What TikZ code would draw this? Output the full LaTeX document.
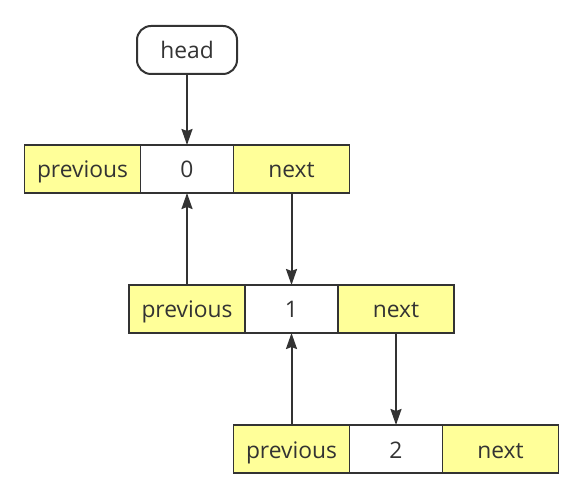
\documentclass[tikz,border=0pt]{standalone}
\usepackage{fontspec}
\setmainfont{Open Sans}
\usetikzlibrary{arrows.meta, positioning}

\definecolor{linkyellow}{HTML}{FFFF99}
\definecolor{linkgray}{HTML}{333333}

\begin{document}
\begin{tikzpicture}[
            > = {Stealth[length=8pt, width=5.5pt, inset=1pt]}, % arrow head style
            line width = 1pt, % line style
            draw = linkgray,
            text = linkgray,
            font = \fontsize{11.4}{13}\selectfont,
            text height = 10pt, % keep all labels on one baseline
            text depth = 1pt
        ]

        \tikzstyle{cell}=[
            draw = linkgray,
            line width = 0.9pt,
            outer sep = 0pt,
            inner sep = 0pt,
            minimum height = 24pt
        ]
        \tikzstyle{link}=[cell, fill = linkyellow, minimum width = 58pt]
        \tikzstyle{value}=[cell, fill = white, minimum width = 46.5pt]

        \useasboundingbox (0,0) rectangle (291.5pt,-248pt);

        \node[draw = linkgray, rounded corners = 7pt, minimum width = 50pt,
              minimum height = 24pt, inner sep = 0pt, outer sep = 0pt] (head) at (93.5pt,-25pt) {head};

        \node[value] (v0) [below=35.5pt of head] {0};
        \node[link] (p0) [left=0pt of v0] {previous};
        \node[link] (n0) [right=0pt of v0] {next};

        \node[link] (p1) [below=46pt of v0] {previous};
        \node[value] (v1) [right=0pt of p1] {1};
        \node[link] (n1) [right=0pt of v1] {next};

        \node[link] (p2) [below=46pt of v1] {previous};
        \node[value] (v2) [right=0pt of p2] {2};
        \node[link] (n2) [right=0pt of v2] {next};

        \draw[->] (head) -- (v0);
        \draw[->] (n0) -- (v1);
        \draw[->] (p1) -- (v0);
        \draw[->] (n1) -- (v2);
        \draw[->] (p2) -- (v1);

  \end{tikzpicture}
\end{document}
